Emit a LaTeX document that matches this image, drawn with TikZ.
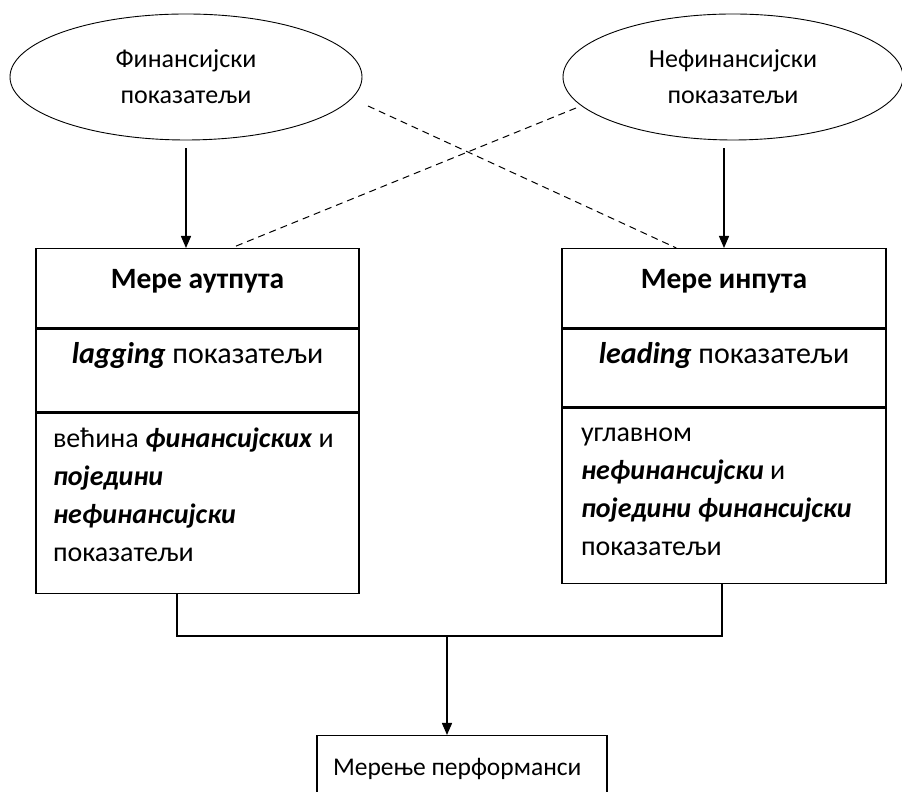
\documentclass[tikz,border=0pt]{standalone}
\usepackage{fontspec}
\setmainfont{Carlito}
\usepackage{tikz}
\usetikzlibrary{arrows.meta, positioning, shapes.geometric}

% top-aligned text inside a fixed-size cell
\newcommand{\cellcontent}[3]{\begin{minipage}[c][#1][t]{#2}#3\end{minipage}}

\tikzset{
  ovalnode/.style={draw, ellipse, line width=0.9pt, minimum height=126pt, inner sep=0pt,
    align=center, font=\fontsize{26}{36}\selectfont},
  cellnode/.style={draw, rectangle, line width=1.3pt, inner sep=0pt, anchor=north},
  link/.style={line width=1.4pt},
  arrowlink/.style={link, -{Triangle[length=12pt,width=10pt]}},
  dashlink/.style={line width=1pt, dash pattern=on 7pt off 5pt},
}

\begin{document}
\begin{tikzpicture}[x=1pt, y=1pt]
\useasboundingbox (0,0) rectangle (902,792);
\clip (0,0) rectangle (902,792);
\fill[white] (0,0) rectangle (902,792);

% indicator ellipses
\node[ovalnode, minimum width=352pt] (finE) at (186,715) {Финансијски\\показатељи};
\node[ovalnode, minimum width=340pt] (nefE) at (733,715) {Нефинансијски\\показатељи};

% output measures
\node[cellnode] (outT) at (197.5,544) {\cellcontent{79pt}{323pt}{\centering\fontsize{29.5}{35}\selectfont\vspace*{15pt}\strut\textbf{Мере аутпута}\par}};
\node[cellnode] (outM) at (outT.south) {\cellcontent{83pt}{323pt}{\centering\fontsize{30}{38}\selectfont\vspace*{8pt}\strut\textbf{\textit{lagging}} показатељи\par}};
\node[cellnode] (outB) at (outM.south) {\cellcontent{180pt}{323pt}{\fontsize{28}{38}\selectfont\leftskip=17pt\vspace*{8pt}\strut већина \textbf{\textit{финансијских}} и\\ \textbf{\textit{поједини}}\\ \textbf{\textit{нефинансијски}}\\ показатељи\par}};

% input measures
\node[cellnode] (inT) at (724,544) {\cellcontent{79pt}{324pt}{\centering\fontsize{29.5}{35}\selectfont\vspace*{15pt}\strut\textbf{Мере инпута}\par}};
\node[cellnode] (inM) at (inT.south) {\cellcontent{78pt}{324pt}{\centering\fontsize{30}{38}\selectfont\vspace*{8pt}\strut\textbf{\textit{leading}} показатељи\par}};
\node[cellnode] (inB) at (inM.south) {\cellcontent{175pt}{324pt}{\fontsize{28}{38}\selectfont\leftskip=19pt\vspace*{7pt}\strut углавном\\ \textbf{\textit{нефинансијски}} и\\ \textbf{\textit{поједини финансијски}}\\ показатељи\par}};

% performance measurement
\node[cellnode] (perf) at (462,57) {\cellcontent{90pt}{290pt}{\fontsize{25.5}{34}\selectfont\leftskip=16pt\vspace*{16pt}\strut Мерење перформанси\par}};

% solid arrows
\draw[arrowlink, shorten <=8pt] (finE.south) -- (finE.south |- outT.north);
\draw[arrowlink, shorten <=8pt] (nefE.south -| inT.north) -- (inT.north);

% dashed cross links
\coordinate (finD) at (368,686);
\coordinate (nefD) at (576,684);
\draw[dashlink] (finD) -- ([xshift=115pt]inT.north west);
\draw[dashlink] (nefD) -- ([xshift=196pt]outT.north west);

% joining lines
\coordinate (jl) at (177,156);
\coordinate (jr) at (722,156);
\coordinate (jm) at (447,156);
\draw[link] (outB.south -| jl) -- (jl) -- (jr) -- (inB.south -| jr);
\draw[arrowlink] (jm) -- (jm |- perf.north);
\end{tikzpicture}
\end{document}
